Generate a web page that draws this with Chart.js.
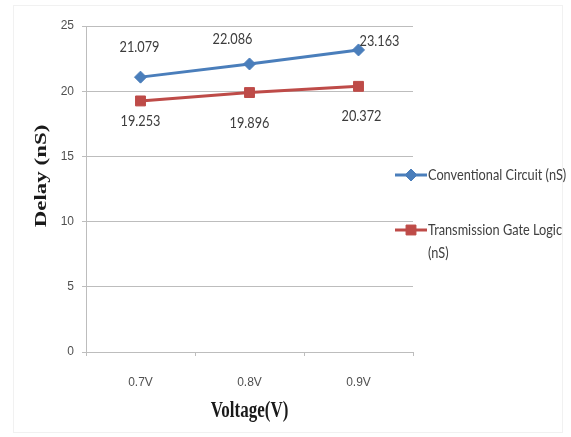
<!DOCTYPE html>
<html>
<head>
<meta charset="utf-8">
<script src="https://cdn.jsdelivr.net/npm/chart.js@4/dist/chart.umd.min.js"></script>
<style>
  html, body { margin: 0; padding: 0; background: #ffffff; }
  canvas { display: block; }
</style>
</head>
<body>
<canvas id="chart" width="571" height="437"></canvas>
<script>
// Delay vs supply voltage for the two circuit styles
const categories = ['0.7V', '0.8V', '0.9V'];
const conventional = [21.079, 22.086, 23.163];
const transmissionGate = [19.253, 19.896, 20.372];
const yTicks = [0, 5, 10, 15, 20, 25];
const seriesNames = ['Conventional Circuit (nS)', 'Transmission Gate Logic (nS)'];
const xTitle = 'Voltage(V)';
const yTitle = 'Delay (nS)';

const SANS = "Lato, 'Open Sans', 'Liberation Sans', sans-serif";
const SERIF = "'Liberation Serif', 'Times New Roman', serif";
const BLUE = '#4a7ebb';
const RED = '#be4b48';
const GRID = '#bdbdbd';
const SQUEEZE = 0.85;   // horizontal squeeze for the condensed look of the labels

// White page with a faint outer frame
const framePlugin = {
  id: 'frame',
  beforeDraw(chart) {
    const ctx = chart.ctx;
    ctx.save();
    ctx.fillStyle = '#ffffff';
    ctx.fillRect(0, 0, chart.width, chart.height);
    ctx.strokeStyle = '#f1f1f1';
    ctx.lineWidth = 1;
    ctx.strokeRect(13.5, 5.5, 549, 427);
    ctx.restore();
  }
};

// Draw text squeezed horizontally around its anchor
function squeezedText(ctx, text, x, y) {
  ctx.save();
  ctx.translate(x, y);
  ctx.scale(SQUEEZE, 1);
  ctx.fillText(text, 0, 0);
  ctx.restore();
}

// Value labels next to each point (blue above, red below)
const valueLabelPlugin = {
  id: 'valueLabels',
  afterDatasetsDraw(chart, args, opts) {
    const ctx = chart.ctx;
    ctx.save();
    ctx.font = '15px ' + SANS;
    ctx.fillStyle = '#3c3c3c';
    ctx.textAlign = 'center';
    ctx.textBaseline = 'middle';
    chart.data.datasets.forEach((ds, di) => {
      const meta = chart.getDatasetMeta(di);
      const shifts = opts.shifts[di];
      meta.data.forEach((pt, i) => {
        const [dx, dy] = shifts[i];
        squeezedText(ctx, ds.data[i].toFixed(3), pt.x + dx, pt.y + dy);
      });
    });
    ctx.restore();
  }
};

// Legend on the right, with wrapped entries
const sideLegendPlugin = {
  id: 'sideLegend',
  afterDraw(chart, args, opts) {
    const ctx = chart.ctx;
    ctx.save();
    ctx.font = '15px ' + SANS;
    ctx.textBaseline = 'middle';
    ctx.textAlign = 'left';
    chart.data.datasets.forEach((ds, di) => {
      const y = opts.rows[di];
      const x0 = opts.x;
      const x1 = x0 + 32;
      ctx.strokeStyle = ds.borderColor;
      ctx.fillStyle = ds.backgroundColor;
      ctx.lineWidth = 3;
      ctx.beginPath();
      ctx.moveTo(x0, y);
      ctx.lineTo(x1, y);
      ctx.stroke();
      ctx.lineWidth = 1;
      Chart.helpers.drawPoint(ctx, {
        pointStyle: ds.pointStyle,
        radius: ds.pointRadius,
        borderWidth: 1
      }, (x0 + x1) / 2, y);
      // greedy word wrap on the squeezed width
      const words = ds.label.split(' ');
      const lines = [];
      let line = '';
      words.forEach(w => {
        const test = line ? line + ' ' + w : w;
        if (ctx.measureText(test).width * SQUEEZE > opts.maxWidth && line) {
          lines.push(line);
          line = w;
        } else {
          line = test;
        }
      });
      lines.push(line);
      ctx.fillStyle = '#404040';
      lines.forEach((l, li) => squeezedText(ctx, l, x1 + 1, y + li * 23));
    });
    ctx.restore();
  }
};

// Axis titles in a tall bold serif
const axisTitlePlugin = {
  id: 'axisTitles',
  afterDraw(chart) {
    const ctx = chart.ctx;
    const area = chart.chartArea;
    ctx.save();
    ctx.font = 'bold 17px ' + SERIF;
    ctx.fillStyle = '#1a1a1a';
    ctx.textAlign = 'center';
    ctx.textBaseline = 'middle';
    ctx.save();
    ctx.translate((area.left + area.right) / 2, 411);
    ctx.scale(1, 1.35);
    ctx.fillText(xTitle, 0, 0);
    ctx.restore();
    ctx.save();
    ctx.translate(42, 176);
    ctx.scale(1, 1.35);
    ctx.rotate(-Math.PI / 2);
    ctx.fillText(yTitle, 0, 0);
    ctx.restore();
    ctx.restore();
  }
};

new Chart(document.getElementById('chart'), {
  type: 'line',
  data: {
    labels: categories,
    datasets: [
      {
        label: seriesNames[0],
        data: conventional,
        borderColor: BLUE,
        backgroundColor: BLUE,
        borderWidth: 3,
        pointStyle: 'rectRot',
        pointRadius: 6,
        pointBorderWidth: 1,
        pointBorderColor: BLUE,
        pointBackgroundColor: BLUE,
        tension: 0
      },
      {
        label: seriesNames[1],
        data: transmissionGate,
        borderColor: RED,
        backgroundColor: RED,
        borderWidth: 3,
        pointStyle: 'rect',
        pointRadius: 7,
        pointBorderWidth: 1,
        pointBorderColor: RED,
        pointBackgroundColor: RED,
        tension: 0
      }
    ]
  },
  options: {
    responsive: false,
    devicePixelRatio: 1,
    animation: false,
    layout: { padding: { left: 0, right: 158, top: 26, bottom: 0 } },
    plugins: {
      legend: { display: false },
      tooltip: { enabled: false },
      valueLabels: {
        shifts: [
          [[-1, -30], [-17, -25], [21, -9]],
          [[0, 20], [0, 31], [3, 30]]
        ]
      },
      sideLegend: { x: 395, rows: [175, 230], maxWidth: 145 }
    },
    scales: {
      x: {
        offset: true,
        grid: {
          offset: true,
          drawOnChartArea: false,
          tickLength: 4,
          color: GRID
        },
        border: { color: GRID },
        ticks: {
          padding: 19,
          color: '#505050',
          font: { family: "'Liberation Sans', sans-serif", size: 12 }
        },
        afterFit(scale) { scale.height = 85; }
      },
      y: {
        min: 0,
        max: 25,
        afterBuildTicks(scale) { scale.ticks = yTicks.map(v => ({ value: v })); },
        grid: { color: GRID, tickLength: 4 },
        border: { color: GRID },
        ticks: {
          padding: 8,
          color: '#505050',
          font: { family: "'Liberation Sans', sans-serif", size: 12 }
        },
        afterFit(scale) { scale.width = 86; }
      }
    }
  },
  plugins: [framePlugin, valueLabelPlugin, sideLegendPlugin, axisTitlePlugin]
});
</script>
</body>
</html>
